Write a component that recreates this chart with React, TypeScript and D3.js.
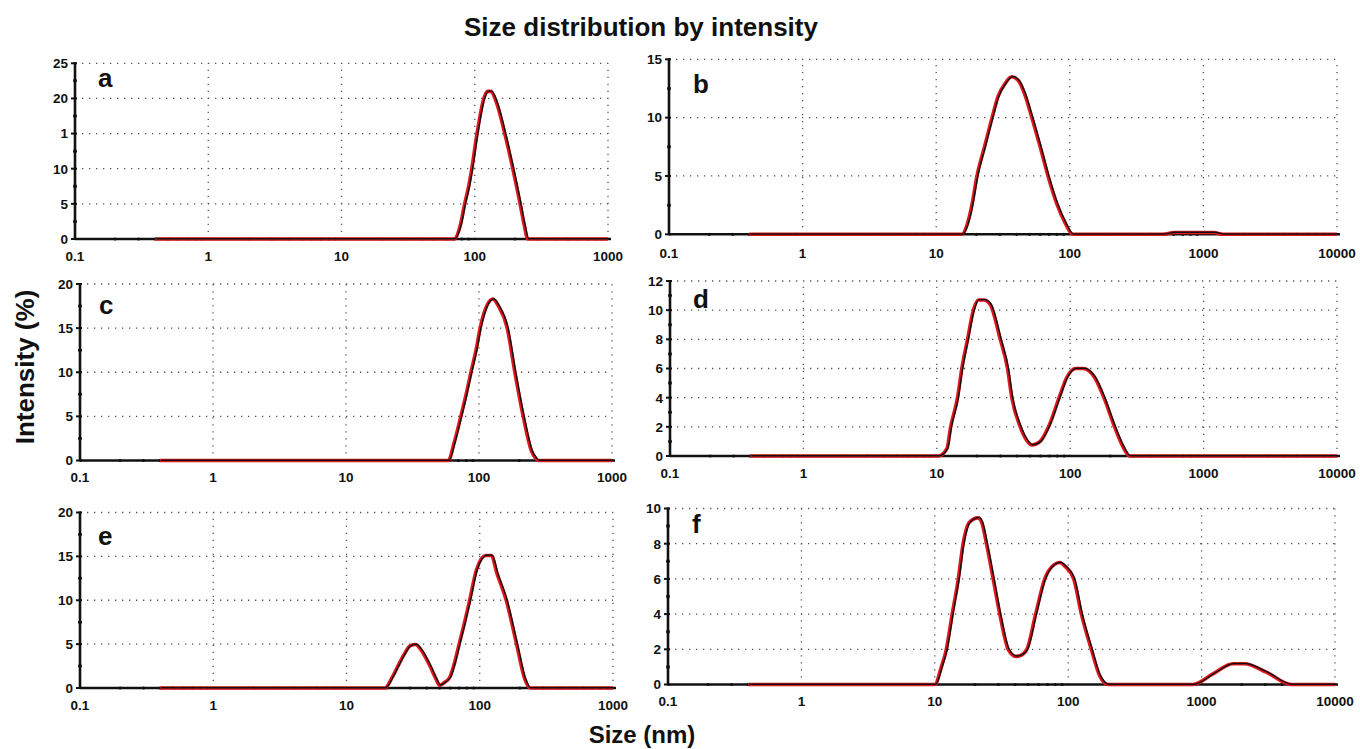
import { useRef, useEffect } from 'react';
import * as d3 from 'd3';

type Pt = [number, number];

// size (nm), intensity (%)
const sizeA: Pt[] = [[0.4, 0], [70, 0], [78, 2], [84, 5], [90, 7.5], [95, 10], [104, 15], [117, 20], [125, 21], [132, 21], [145, 19.5], [168, 15], [193, 10], [219, 5], [235, 2], [250, 0], [1000, 0]];
const sizeB: Pt[] = [[0.4, 0], [15.6, 0], [17, 0.8], [18.5, 2.5], [20.2, 5], [23, 7.5], [26.2, 10], [29, 11.8], [32.7, 12.9], [36.7, 13.5], [41, 13.2], [46, 12], [52, 10], [60, 7.5], [68.7, 5], [80, 2.6], [92, 1], [105, 0], [500, 0], [600, 0.15], [1200, 0.15], [1400, 0], [10000, 0]];
const sizeC: Pt[] = [[0.4, 0], [58.8, 0], [65, 2], [73, 5], [80, 7.5], [87, 10], [95, 12.5], [102, 15], [112, 17.2], [127, 18.3], [140, 17.5], [163, 15], [186, 10], [215, 5], [249, 1], [265, 0.3], [279, 0], [1000, 0]];
const sizeD: Pt[] = [[0.4, 0], [10.3, 0], [11.9, 0.5], [12.7, 2], [14.3, 4], [15.4, 6], [17, 8], [18.8, 10], [20.5, 10.7], [22.5, 10.7], [25.1, 10.4], [29.9, 8], [33.9, 6], [36.5, 4], [42.2, 2], [47, 1.1], [51.6, 0.75], [59.6, 1.0], [68.8, 2], [82.6, 4], [94.4, 5.4], [110, 6.0], [125, 6.0], [152, 5.4], [179, 4], [215, 2], [250, 0.6], [279, 0], [10000, 0]];
const sizeE: Pt[] = [[0.4, 0], [19.4, 0], [22, 1.2], [24.3, 2.5], [27, 3.8], [30, 4.8], [33, 4.95], [36, 4.4], [42.3, 2.5], [47, 1], [50, 0.3], [54, 0.6], [59.7, 1.25], [65, 3], [70, 5], [77, 7.5], [84, 10], [94.6, 13.5], [111, 15.1], [122, 15.1], [135, 13], [158, 10], [189, 5], [218, 1], [238, 0], [1000, 0]];
const sizeF: Pt[] = [[0.4, 0], [10, 0], [11.2, 1], [12.2, 2], [13.5, 4], [15, 6], [16.3, 8], [18.1, 9.2], [21.1, 9.47], [22.5, 9.2], [24.4, 8], [27.4, 6], [30.7, 4], [35.5, 2], [40.5, 1.6], [43.8, 1.65], [49, 2], [57, 4], [66.7, 6], [78, 6.8], [86.3, 6.93], [95, 6.7], [110, 6], [125.6, 4], [149, 2], [172, 0.5], [199, 0], [861, 0], [1216, 0.6], [1718, 1.18], [2100, 1.18], [3050, 0.7], [4700, 0], [10000, 0]];

const xTickValues = [0.1, 1, 10, 100, 1000, 10000];
const xTickLabels = ['0.1', '1', '10', '100', '1000', '10000'];

const yTicksA = [0, 5, 10, 15, 20, 25];
const yLabelsA = ['0', '5', '10', '1', '20', '25'];
const yTicksB = [0, 5, 10, 15];
const yTicksC = [0, 5, 10, 15, 20];
const yTicksD = [0, 2, 4, 6, 8, 10, 12];
const yTicksE = [0, 5, 10, 15, 20];
const yTicksF = [0, 2, 4, 6, 8, 10];

const panels = [
    { name: 'a', data: sizeA, xMax: 1000, yTicks: yTicksA, yLabels: yLabelsA, left: 75, right: 608, top: 63.3, bottom: 239, lx: 98, ly: 87, tickGap: 17 },
    { name: 'b', data: sizeB, xMax: 10000, yTicks: yTicksB, yLabels: yTicksB.map(String), left: 669, right: 1337, top: 59.3, bottom: 234.3, lx: 693, ly: 93, tickGap: 19 },
    { name: 'c', data: sizeC, xMax: 1000, yTicks: yTicksC, yLabels: yTicksC.map(String), left: 80, right: 612, top: 284, bottom: 460.5, lx: 99, ly: 314, tickGap: 17 },
    { name: 'd', data: sizeD, xMax: 10000, yTicks: yTicksD, yLabels: yTicksD.map(String), left: 670, right: 1337, top: 281, bottom: 456, lx: 693, ly: 308, tickGap: 17 },
    { name: 'e', data: sizeE, xMax: 1000, yTicks: yTicksE, yLabels: yTicksE.map(String), left: 80, right: 613, top: 512.5, bottom: 688, lx: 98, ly: 545, tickGap: 17 },
    { name: 'f', data: sizeF, xMax: 10000, yTicks: yTicksF, yLabels: yTicksF.map(String), left: 668, right: 1335, top: 508.5, bottom: 684.5, lx: 692, ly: 533, tickGap: 17 },
];

const FONT = '"Liberation Sans", Arial, sans-serif';

export default function App() {
    const svgRef = useRef<SVGSVGElement>(null);

    useEffect(() => {
        const svg = d3.select(svgRef.current).html('');

        svg.append('rect').attr('width', 1360).attr('height', 749).attr('fill', '#fff');

        // タイトル・軸ラベル
        svg.append('text')
            .attr('x', 641).attr('y', 36)
            .attr('text-anchor', 'middle')
            .attr('font-family', FONT).attr('font-weight', 'bold').attr('font-size', 26)
            .attr('fill', '#111')
            .text('Size distribution by intensity');

        svg.append('text')
            .attr('transform', 'translate(34,367) rotate(-90)')
            .attr('text-anchor', 'middle')
            .attr('font-family', FONT).attr('font-weight', 'bold').attr('font-size', 26)
            .attr('fill', '#111')
            .text('Intensity (%)');

        svg.append('text')
            .attr('x', 642).attr('y', 743)
            .attr('text-anchor', 'middle')
            .attr('font-family', FONT).attr('font-weight', 'bold').attr('font-size', 24)
            .attr('fill', '#111')
            .text('Size (nm)');

        panels.forEach(p => {
            const yMax = p.yTicks[p.yTicks.length - 1];
            const x = d3.scaleLog().domain([0.1, p.xMax]).range([p.left, p.right]);
            const y = d3.scaleLinear().domain([0, yMax]).range([p.bottom, p.top]);
            const g = svg.append('g');
            const decades = xTickValues.filter(v => v <= p.xMax);

            // グリッド（点線）
            g.selectAll('.vgrid')
                .data(decades.slice(1))
                .enter().append('line')
                .attr('x1', d => x(d)).attr('x2', d => x(d))
                .attr('y1', p.bottom).attr('y2', p.top)
                .attr('stroke', '#555').attr('stroke-width', 1.3)
                .attr('stroke-dasharray', '1.3 5.7');

            g.selectAll('.hgrid')
                .data(p.yTicks.slice(1))
                .enter().append('line')
                .attr('x1', p.left).attr('x2', p.right)
                .attr('y1', d => y(d)).attr('y2', d => y(d))
                .attr('stroke', '#555').attr('stroke-width', 1.3)
                .attr('stroke-dasharray', '1.3 5.7');

            // x軸
            g.append('line')
                .attr('x1', p.left).attr('x2', p.right + 3)
                .attr('y1', y(0)).attr('y2', y(0))
                .attr('stroke', '#111').attr('stroke-width', 2.4);

            const minors: number[] = [];
            decades.slice(0, -1).forEach(dv => {
                for (let k = 2; k <= 9; k++) minors.push(dv * k);
            });
            g.selectAll('.xminor')
                .data(minors)
                .enter().append('circle')
                .attr('cx', d => x(d)).attr('cy', y(0))
                .attr('r', 1.6).attr('fill', '#111');

            // 分布曲線（赤＋黒）
            const line = d3.line<Pt>()
                .x(d => x(d[0]))
                .y(d => y(d[1]))
                .curve(d3.curveMonotoneX);

            g.append('path')
                .datum(p.data)
                .attr('d', line)
                .attr('fill', 'none')
                .attr('stroke', '#e3161d').attr('stroke-width', 3.6)
                .attr('stroke-linejoin', 'round');

            g.append('path')
                .datum(p.data)
                .attr('d', line)
                .attr('transform', 'translate(0.9,-0.3)')
                .attr('fill', 'none')
                .attr('stroke', '#111').attr('stroke-width', 1.4)
                .attr('stroke-linejoin', 'round');

            // y軸
            g.append('line')
                .attr('x1', p.left).attr('x2', p.left)
                .attr('y1', p.bottom + 1).attr('y2', p.top - 1)
                .attr('stroke', '#111').attr('stroke-width', 2.6);

            const step = p.yTicks[1] - p.yTicks[0];
            g.selectAll('.yminor')
                .data(p.yTicks.slice(0, -1).map(v => v + step / 2))
                .enter().append('circle')
                .attr('cx', p.left).attr('cy', d => y(d))
                .attr('r', 2).attr('fill', '#111');

            g.selectAll('.ytick')
                .data(p.yTicks)
                .enter().append('line')
                .attr('x1', p.left - 4).attr('x2', p.left + 2)
                .attr('y1', d => y(d)).attr('y2', d => y(d))
                .attr('stroke', '#111').attr('stroke-width', 2);

            // 目盛りラベル
            g.selectAll('.ylabel')
                .data(p.yTicks)
                .enter().append('text')
                .attr('x', p.left - 7)
                .attr('y', d => y(d))
                .attr('dy', '0.36em')
                .attr('text-anchor', 'end')
                .attr('font-family', FONT).attr('font-weight', 'bold').attr('font-size', 13.5)
                .attr('fill', '#111')
                .text((d, i) => p.yLabels[i]);

            g.selectAll('.xlabel')
                .data(decades)
                .enter().append('text')
                .attr('x', d => x(d))
                .attr('y', p.bottom + p.tickGap)
                .attr('dy', '0.36em')
                .attr('text-anchor', 'middle')
                .attr('font-family', FONT).attr('font-weight', 'bold').attr('font-size', 13.5)
                .attr('fill', '#111')
                .text(d => xTickLabels[xTickValues.indexOf(d)]);

            // パネル記号
            g.append('text')
                .attr('x', p.lx).attr('y', p.ly)
                .attr('font-family', FONT).attr('font-weight', 'bold').attr('font-size', 26)
                .attr('fill', '#111')
                .text(p.name);
        });
    }, []);

    return (
        <div>
            <svg ref={svgRef} width={1360} height={749} style={{ display: 'block', position: 'absolute', left: 0, top: 0 }}></svg>
        </div>
    );
}
